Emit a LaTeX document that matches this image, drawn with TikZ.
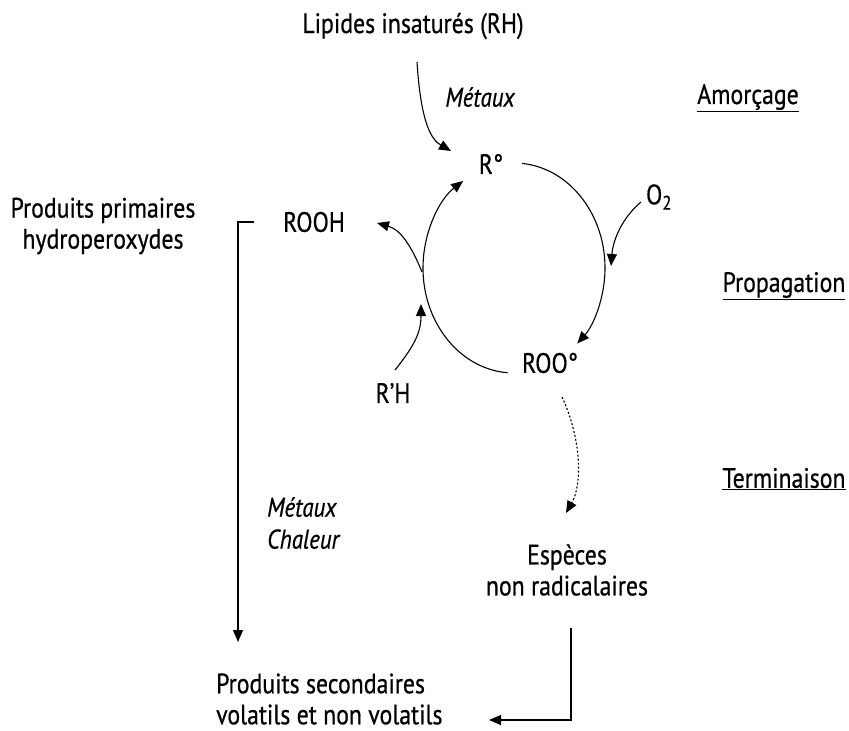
\documentclass[tikz,border=0pt]{standalone}
\usepackage{fontspec}
\setmainfont{PT Sans}[FakeStretch=0.85, FakeBold=0.6]
\usetikzlibrary{arrows.meta}
\begin{document}
\begin{tikzpicture}[x=1pt,y=-1pt,
  lbl/.style={font=\fontsize{28}{31}\selectfont, inner sep=0pt, align=center},
  ital/.style={font=\fontsize{27}{32}\selectfont\itshape, inner sep=0pt, align=left},
  arr/.style={line width=1.1pt, -{Triangle[length=12pt,width=10pt]}}]
\useasboundingbox (0,0) rectangle (849,731);
% texts
\node[lbl] (lip) at (413,26) {Lipides insaturés (RH)};
\node[ital] (met1) at (480,97) {Métaux};
\node[lbl] (amo) at (748,98) {\underline{Amorçage}};
\node[lbl] (R) at (491,164) {R°};
\node[lbl] (O2) at (659,197) {O\textsubscript{2}};
\node[lbl] (pp) at (103,226) {Produits primaires\\hydroperoxydes};
\node[lbl] (rooh) at (314,222) {ROOH};
\node[lbl] (prop) at (784,286) {\underline{Propagation}};
\node[lbl] (roo) at (550,363) {ROO°};
\node[lbl] (rh) at (393,393) {R'H};
\node[lbl] (term) at (784,479) {\underline{Terminaison}};
\node[ital, anchor=west] (mc) at (267,523) {Métaux\\Chaleur};
\node[lbl] (esp) at (567,570) {Espèces\\non radicalaires};
\node[lbl, align=left, anchor=west] (ps) at (216,699) {Produits secondaires\\volatils et non volatils};
% named points
\coordinate (lipS) at (417,62);
\coordinate (lipE) at (451,151);
\coordinate (c) at (514,268);
% cycle arcs
\draw[arr] (c) ++(-85:91 and 105) arc[start angle=-85, end angle=46, x radius=91, y radius=105];
\draw[arr] (c) ++(94:91 and 105) arc[start angle=94, end angle=236, x radius=91, y radius=105];
% initiation
\draw[arr] (lipS) .. controls (421,125) and (432,140) .. (lipE);
% O2
\coordinate (o2s) at (641,202);
\coordinate (o2e) at (611,266);
\draw[arr] (o2s) .. controls (622,218) and (613,240) .. (o2e);
% ROOH branch
\coordinate (br) at (422,272);
\coordinate (broe) at (377,223);
\draw[arr] (br) .. controls (413,250) and (402,230) .. (broe);
% R'H
\coordinate (rhs) at (395,370);
\coordinate (rhe) at (421,304);
\draw[arr] (rhs) .. controls (415,345) and (421,332) .. (rhe);
% dotted
\coordinate (ds) at (562,397);
\coordinate (de) at (566,513);
\draw[arr, dash pattern=on 2pt off 2pt] (ds) .. controls (582,440) and (582,485) .. (de);
% bracket to secondary products
\coordinate (b1) at (254,222);
\coordinate (b2) at (238,222);
\coordinate (b3) at (238,642);
\draw[arr] (b1) -- (b2) -- (b3);
% from especes
\coordinate (e1) at (571,628);
\coordinate (e2) at (571,720);
\coordinate (e3) at (489,720);
\draw[arr] (e1) -- (e2) -- (e3);
\end{tikzpicture}
\end{document}
